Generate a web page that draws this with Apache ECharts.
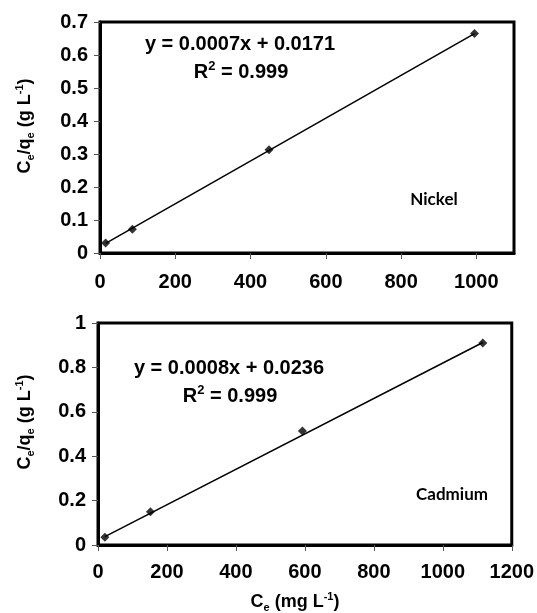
<!DOCTYPE html>
<html>
<head>
<meta charset="utf-8">
<script src="https://cdn.jsdelivr.net/npm/echarts@6/dist/echarts.min.js"></script>
<style>
  html, body { margin: 0; padding: 0; background: #fff; }
  #chart { width: 537px; height: 613px; }
</style>
</head>
<body>
<div id="chart"></div>
<script>
// Nickel (top panel)
const nickelCe = [15, 86, 449, 995]
const nickelRatio = [0.030, 0.072, 0.313, 0.665]
const nickelTrendCe = [15, 995]
const nickelTrendRatio = [0.029, 0.665]
const nickelEquation = 'y = 0.0007x + 0.0171'

// Cadmium (bottom panel)
const cadmiumCe = [20, 152, 593, 1116]
const cadmiumRatio = [0.035, 0.150, 0.514, 0.910]
const cadmiumTrendCe = [20, 1116]
const cadmiumTrendRatio = [0.038, 0.912]
const cadmiumEquation = 'y = 0.0008x + 0.0236'

const rSquared = '0.999'

const FONT = '"Liberation Sans", Arial, sans-serif'
const TAG_FONT = 'bold 17px Lato, "Open Sans", sans-serif'
const pairs = (xs, ys) => xs.map((x, i) => [x, ys[i]])

const chart = echarts.init(document.getElementById('chart'))

// shared axis styling
const axisCommon = {
  axisLine: { show: true, lineStyle: { color: '#000', width: 3 } },
  axisTick: { show: true, length: 6, lineStyle: { color: '#555', width: 1 } },
  splitLine: { show: false },
  axisLabel: {
    color: '#000', fontSize: 20, fontWeight: 'bold', fontFamily: FONT,
    formatter: v => String(v)  // 不要千分位
  }
}

const richText = {
  b: { fontSize: 20, fontWeight: 'bold', fontFamily: FONT, color: '#000', lineHeight: 24 },
  sup: { fontSize: 13, fontWeight: 'bold', fontFamily: FONT, color: '#000', verticalAlign: 'top', lineHeight: 24, padding: [0, 0, 6, 0] }
}
const nameRich = {
  n: { fontSize: 18, fontWeight: 'bold', fontFamily: FONT, color: '#111', lineHeight: 22 },
  sub: { fontSize: 11, fontWeight: 'bold', fontFamily: FONT, color: '#111', lineHeight: 22, verticalAlign: 'bottom', padding: [2, 0, 0, 0] },
  sup: { fontSize: 11, fontWeight: 'bold', fontFamily: FONT, color: '#111', lineHeight: 22, verticalAlign: 'top', padding: [0, 0, 5, 0] }
}

function label (x, y, text, rich, extra) {
  return Object.assign({
    type: 'text',
    x: x,
    y: y,
    style: {
      text: text,
      rich: rich,
      align: 'center',
      verticalAlign: 'middle',
      textAlign: 'center',
      textVerticalAlign: 'middle'
    }
  }, extra || {})
}

function plainLabel (x, y, text, font) {
  return {
    type: 'text',
    x: x,
    y: y,
    style: {
      text: text,
      font: font,
      fill: '#000',
      align: 'center',
      verticalAlign: 'middle',
      textAlign: 'center',
      textVerticalAlign: 'middle'
    }
  }
}

const option = {
  backgroundColor: '#fff',
  animation: false,
  grid: [
    { left: 100, top: 22, width: 414, height: 231, show: true, borderColor: '#000', borderWidth: 3 },
    { left: 98, top: 323, width: 414, height: 222, show: true, borderColor: '#000', borderWidth: 3 }
  ],
  xAxis: [
    Object.assign({}, axisCommon, {
      type: 'value', gridIndex: 0, min: 0, max: 1100, interval: 200,
      axisLabel: Object.assign({}, axisCommon.axisLabel, { margin: 19, showMaxLabel: false })
    }),
    Object.assign({}, axisCommon, {
      type: 'value', gridIndex: 1, min: 0, max: 1200, interval: 200,
      axisLabel: Object.assign({}, axisCommon.axisLabel, { margin: 17 })
    })
  ],
  yAxis: [
    Object.assign({}, axisCommon, {
      type: 'value', gridIndex: 0, min: 0, max: 0.7, interval: 0.1,
      axisLabel: Object.assign({}, axisCommon.axisLabel, { margin: 12 })
    }),
    Object.assign({}, axisCommon, {
      type: 'value', gridIndex: 1, min: 0, max: 1, interval: 0.2,
      axisLabel: Object.assign({}, axisCommon.axisLabel, { margin: 12 })
    })
  ],
  series: [
    {
      type: 'line', xAxisIndex: 0, yAxisIndex: 0,
      data: pairs(nickelTrendCe, nickelTrendRatio),
      symbol: 'none', lineStyle: { color: '#000', width: 1.5 }
    },
    {
      type: 'scatter', xAxisIndex: 0, yAxisIndex: 0,
      data: pairs(nickelCe, nickelRatio),
      symbol: 'diamond', symbolSize: 9, itemStyle: { color: '#000' }
    },
    {
      type: 'line', xAxisIndex: 1, yAxisIndex: 1,
      data: pairs(cadmiumTrendCe, cadmiumTrendRatio),
      symbol: 'none', lineStyle: { color: '#000', width: 1.5 }
    },
    {
      type: 'scatter', xAxisIndex: 1, yAxisIndex: 1,
      data: pairs(cadmiumCe, cadmiumRatio),
      symbol: 'diamond', symbolSize: 9, itemStyle: { color: '#000' }
    }
  ],
  graphic: [
    // 上图文字
    plainLabel(240, 44, nickelEquation, 'bold 20px ' + FONT),
    label(241, 72, '{b|R}{sup|2}{b| = ' + rSquared + '}', richText),
    plainLabel(434, 200, 'Nickel', TAG_FONT),
    label(25, 126, '{n|C}{sub|e}{n|/q}{sub|e}{n| (g L}{sup|-1}{n|)}', nameRich, { rotation: Math.PI / 2 }),
    // 下图文字
    plainLabel(229, 368, cadmiumEquation, 'bold 20px ' + FONT),
    label(230, 396, '{b|R}{sup|2}{b| = ' + rSquared + '}', richText),
    plainLabel(452, 495, 'Cadmium', TAG_FONT),
    label(25, 422, '{n|C}{sub|e}{n|/q}{sub|e}{n| (g L}{sup|-1}{n|)}', nameRich, { rotation: Math.PI / 2 }),
    label(295, 602, '{n|C}{sub|e}{n| (mg L}{sup|-1}{n|)}', nameRich)
  ]
}

chart.setOption(option)
</script>
</body>
</html>
